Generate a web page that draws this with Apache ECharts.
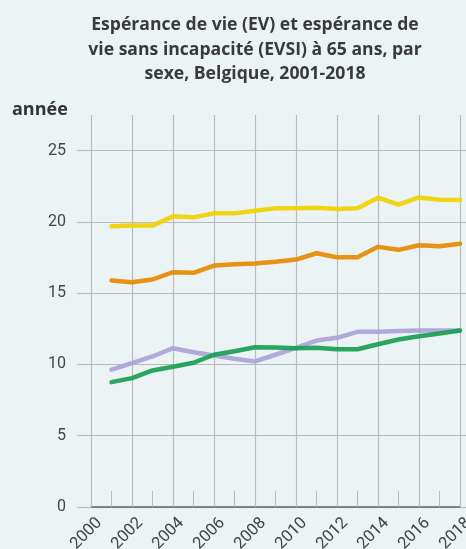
<!DOCTYPE html>
<html>
<head>
<meta charset="utf-8">
<script src="https://cdn.jsdelivr.net/npm/echarts@6/dist/echarts.min.js"></script>
<style>
  html, body { margin: 0; padding: 0; background: #ecf3f5; }
  #chart { width: 466px; height: 549px; }
</style>
</head>
<body>
<div id="chart"></div>
<script>
// années 2001-2018
const years = [2001, 2002, 2003, 2004, 2005, 2006, 2007, 2008, 2009, 2010, 2011, 2012, 2013, 2014, 2015, 2016, 2017, 2018]
// EV femmes / hommes, EVSI femmes / hommes
const evYellow = [19.69, 19.74, 19.74, 20.39, 20.32, 20.6, 20.6, 20.79, 20.95, 20.95, 21.0, 20.91, 20.95, 21.7, 21.21, 21.72, 21.56, 21.54]
const evOrange = [15.89, 15.77, 15.96, 16.47, 16.43, 16.94, 17.03, 17.08, 17.2, 17.36, 17.8, 17.52, 17.52, 18.25, 18.04, 18.36, 18.3, 18.46]
const evsiLavender = [9.63, 10.09, 10.56, 11.14, 10.86, 10.63, 10.4, 10.21, 10.68, 11.17, 11.68, 11.87, 12.29, 12.29, 12.34, 12.38, 12.38, 12.38]
const evsiGreen = [8.76, 9.04, 9.58, 9.84, 10.12, 10.68, 10.93, 11.21, 11.19, 11.14, 11.17, 11.07, 11.07, 11.42, 11.75, 11.98, 12.17, 12.38]
const yTicks = [0, 5, 10, 15, 20, 25]

const gridColor = '#b9bcbe'
const noLine = 'rgba(0,0,0,0)'
const chart = echarts.init(document.getElementById('chart'))

function toPairs(values) {
  return values.map((v, i) => [years[i], v])
}

function lineSeries(name, values, color) {
  return {
    name: name,
    type: 'line',
    data: toPairs(values),
    showSymbol: false,
    lineStyle: { color: color, width: 4.5, cap: 'round', join: 'round', opacity: 0.92 },
    itemStyle: { color: color }
  }
}

const option = {
  backgroundColor: '#ecf3f5',
  animation: false,
  title: {
    text: 'Espérance de vie (EV) et espérance de\nvie sans incapacité (EVSI) à 65 ans, par\nsexe, Belgique, 2001-2018',
    left: 250,
    top: 8,
    textAlign: 'center',
    textStyle: {
      fontFamily: 'Open Sans',
      fontWeight: 'bold',
      fontSize: 17.6,
      lineHeight: 24.5,
      color: '#3a3a3a'
    }
  },
  graphic: [{
    type: 'text',
    left: 12,
    top: 101,
    style: {
      text: 'année',
      font: 'bold 18px "Open Sans"',
      fill: '#333'
    }
  }],
  grid: { left: 91, right: 6, top: 115, bottom: 42, containLabel: false, outerBoundsMode: 'none' },
  xAxis: {
    type: 'value',
    min: 2000,
    max: 2018,
    interval: 2,
    axisLine: { show: true, lineStyle: { color: '#666', width: 1.5 } },
    axisTick: { show: true, inside: true, length: 16, lineStyle: { color: gridColor } },
    minorTick: { show: true, splitNumber: 2, length: 16, lineStyle: { color: gridColor } },
    splitLine: { show: true, lineStyle: { color: gridColor, width: 1.2 } },
    axisLabel: {
      rotate: 45,
      margin: 5,
      verticalAlign: 'top',
      lineHeight: 24,
      fontFamily: 'Roboto',
      fontSize: 16.5,
      color: '#444',
      formatter: v => String(v)
    }
  },
  yAxis: [{
    type: 'value',
    min: 0,
    max: 27.5,
    interval: 5,
    axisLine: { show: false },
    axisTick: {
      show: true,
      length: 14,
      customValues: yTicks,
      lineStyle: { color: gridColor, width: 1.2 }
    },
    splitLine: {
      show: true,
      lineStyle: { color: [gridColor, gridColor, gridColor, gridColor, gridColor, gridColor, noLine], width: 1.2 }
    },
    axisLabel: {
      margin: 25,
      fontFamily: 'Roboto',
      fontSize: 16,
      color: '#444',
      customValues: yTicks,
      formatter: v => String(v)
    }
  }, {
    type: 'value',
    position: 'right',
    min: 0,
    max: 27.5,
    interval: 5,
    axisLine: { show: false },
    axisTick: { show: true, length: 6, customValues: yTicks, lineStyle: { color: gridColor, width: 1.2 } },
    splitLine: { show: false },
    axisLabel: { show: false }
  }],
  series: [
    lineSeries('EV femmes', evYellow, '#efd300'),
    lineSeries('EV hommes', evOrange, '#e58a00'),
    lineSeries('EVSI femmes', evsiLavender, '#aba2d8'),
    lineSeries('EVSI hommes', evsiGreen, '#17a052')
  ]
}

chart.setOption(option)
</script>
</body>
</html>
